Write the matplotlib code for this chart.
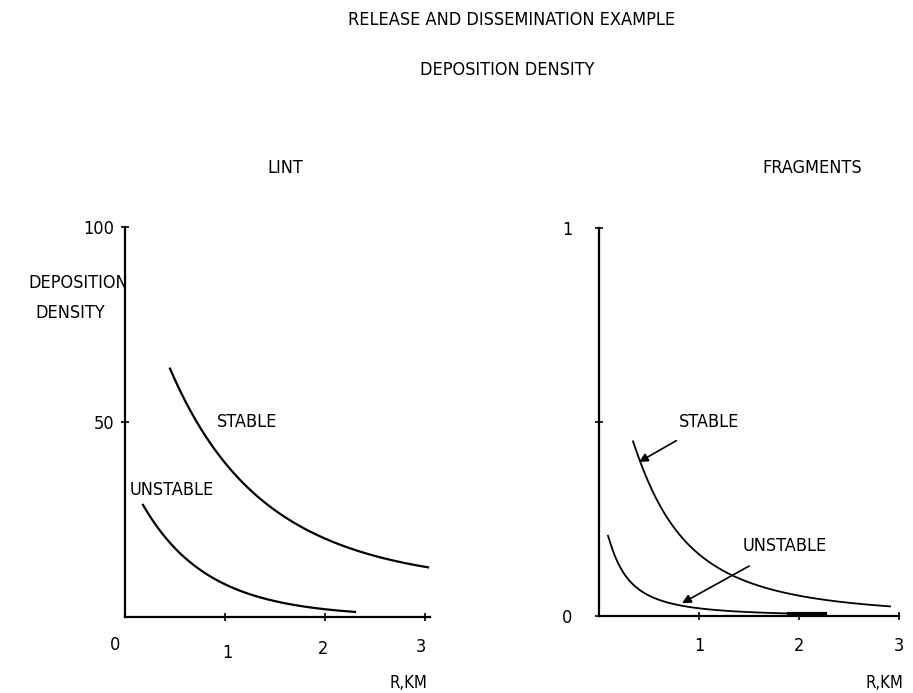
import numpy as np
import matplotlib.pyplot as plt
from matplotlib import font_manager

# values (R in km)
lint_stable_r = [0.45, 0.58, 1.08, 1.55, 2.05, 2.55, 3.03]
lint_stable_d = [64.6, 55.6, 36.9, 26.7, 19.7, 15.1, 12.8]
lint_unstable_r = [0.18, 0.45, 0.72, 1.05, 1.55, 2.3]
lint_unstable_d = [28.7, 19.0, 12.8, 7.7, 3.8, 1.3]

frag_stable_r = [0.34, 0.41, 0.58, 0.91, 1.28, 1.74, 2.24, 2.91]
frag_stable_d = [0.48, 0.394, 0.273, 0.17, 0.119, 0.072, 0.044, 0.023]
frag_unstable_r = [0.09, 0.28, 0.51, 0.84, 1.41, 2.26]
frag_unstable_d = [0.20, 0.11, 0.049, 0.026, 0.010, 0.005]

x_ticks = [0, 1, 2, 3]
lint_y_ticks = [50, 100]
frag_y_ticks = [0, 0.5, 1]

names = {f.name for f in font_manager.fontManager.ttflist}
if 'Liberation Sans Narrow' in names:
    plt.rcParams['font.family'] = 'Liberation Sans Narrow'
else:
    plt.rcParams['font.family'] = 'DejaVu Sans'
    plt.rcParams['font.stretch'] = 'condensed'
fs = 13

fig = plt.figure(figsize=(9.13, 6.93), dpi=100)
W, H = 913, 693


def smooth(r, d, n=200, loglog=False, deg=3):
    # least-squares fit through the read points so the hand curves stay smooth
    r = np.asarray(r)
    xr = np.log(r) if loglog else r
    c = np.polyfit(xr, np.log(np.asarray(d)), deg)
    rr = np.linspace(r[0], r[-1], n)
    xx = np.log(rr) if loglog else rr
    return rr, np.exp(np.polyval(c, xx))


def style(ax):
    for s in ['top', 'right']:
        ax.spines[s].set_visible(False)
    for s in ['left', 'bottom']:
        ax.spines[s].set_linewidth(1.6)
    ax.tick_params(direction='inout', length=6, width=1.2, labelsize=fs)
    ax.patch.set_alpha(0)


# left panel: lint
ax1 = fig.add_axes([125 / W, 76 / H, 305 / W, 390 / H])
style(ax1)
ax1.set_xlim(0, 3.05)
ax1.set_ylim(0, 100)
ax1.set_xticks(x_ticks[1:])
ax1.set_xticklabels([])
ax1.set_yticks(lint_y_ticks)
ax1.set_yticklabels([str(v) for v in lint_y_ticks], fontsize=fs)
ax1.tick_params(axis='y', pad=5)
for xv, dx, dy in zip(x_ticks, [-0.1, 0.02, -0.02, -0.04], [28, 36, 32, 30]):
    ax1.annotate(str(xv), (xv, 0), xytext=(dx * 100, -dy), textcoords='offset pixels',
                 ha='center', va='center', fontsize=fs)
ax1.plot(*smooth(lint_stable_r, lint_stable_d), color='black', lw=1.6)
ax1.plot(*smooth(lint_unstable_r, lint_unstable_d), color='black', lw=1.6)
ax1.text(1.22, 50, 'STABLE', fontsize=fs, ha='center', va='center')
ax1.text(0.47, 32.5, 'UNSTABLE', fontsize=fs, ha='center', va='center')

# right panel: fragments
ax2 = fig.add_axes([599 / W, 77 / H, 300 / W, 388 / H])
style(ax2)
ax2.set_xlim(0, 3)
ax2.set_ylim(0, 1)
ax2.set_xticks(x_ticks[1:])
ax2.set_xticklabels([str(v) for v in x_ticks[1:]], fontsize=fs)
ax2.tick_params(axis='x', pad=12)
ax2.set_yticks(frag_y_ticks)
ax2.set_yticklabels(['0', '', '1'], fontsize=fs)
ax2.tick_params(axis='y', pad=16)
ax2.plot(*smooth(frag_stable_r, frag_stable_d, loglog=True, deg=2), color='black', lw=1.3)
ax2.plot(*smooth(frag_unstable_r, frag_unstable_d, loglog=True, deg=2), color='black', lw=1.3)
ax2.plot([1.9, 2.26], [0.004, 0.004], color='black', lw=3)
ax2.annotate('STABLE', xy=(0.40, 0.397), xytext=(1.1, 0.5), fontsize=fs,
             ha='center', va='center',
             arrowprops=dict(arrowstyle='-|>', color='black', lw=1.2,
                             shrinkA=10, shrinkB=0))
ax2.annotate('UNSTABLE', xy=(0.83, 0.033), xytext=(1.86, 0.18), fontsize=fs,
             ha='center', va='center',
             arrowprops=dict(arrowstyle='-|>', color='black', lw=1.2,
                             shrinkA=12, shrinkB=0))

# axis captions and titles
fig.text(408 / W, 1 - 683 / H, 'R,KM', fontsize=fs - 1, ha='center', va='center')
fig.text(884 / W, 1 - 683 / H, 'R,KM', fontsize=fs - 1, ha='center', va='center')
fig.text(78 / W, 1 - 283 / H, 'DEPOSITION', fontsize=fs, ha='center', va='center')
fig.text(70 / W, 1 - 313 / H, 'DENSITY', fontsize=fs, ha='center', va='center')
fig.text(512 / W, 1 - 20 / H, 'RELEASE AND DISSEMINATION EXAMPLE', fontsize=fs,
         ha='center', va='center')
fig.text(507 / W, 1 - 70 / H, 'DEPOSITION DENSITY', fontsize=fs, ha='center', va='center')
fig.text(285 / W, 1 - 168 / H, 'LINT', fontsize=fs, ha='center', va='center')
fig.text(812 / W, 1 - 168 / H, 'FRAGMENTS', fontsize=fs, ha='center', va='center')

fig.savefig('out.png', dpi=100)
